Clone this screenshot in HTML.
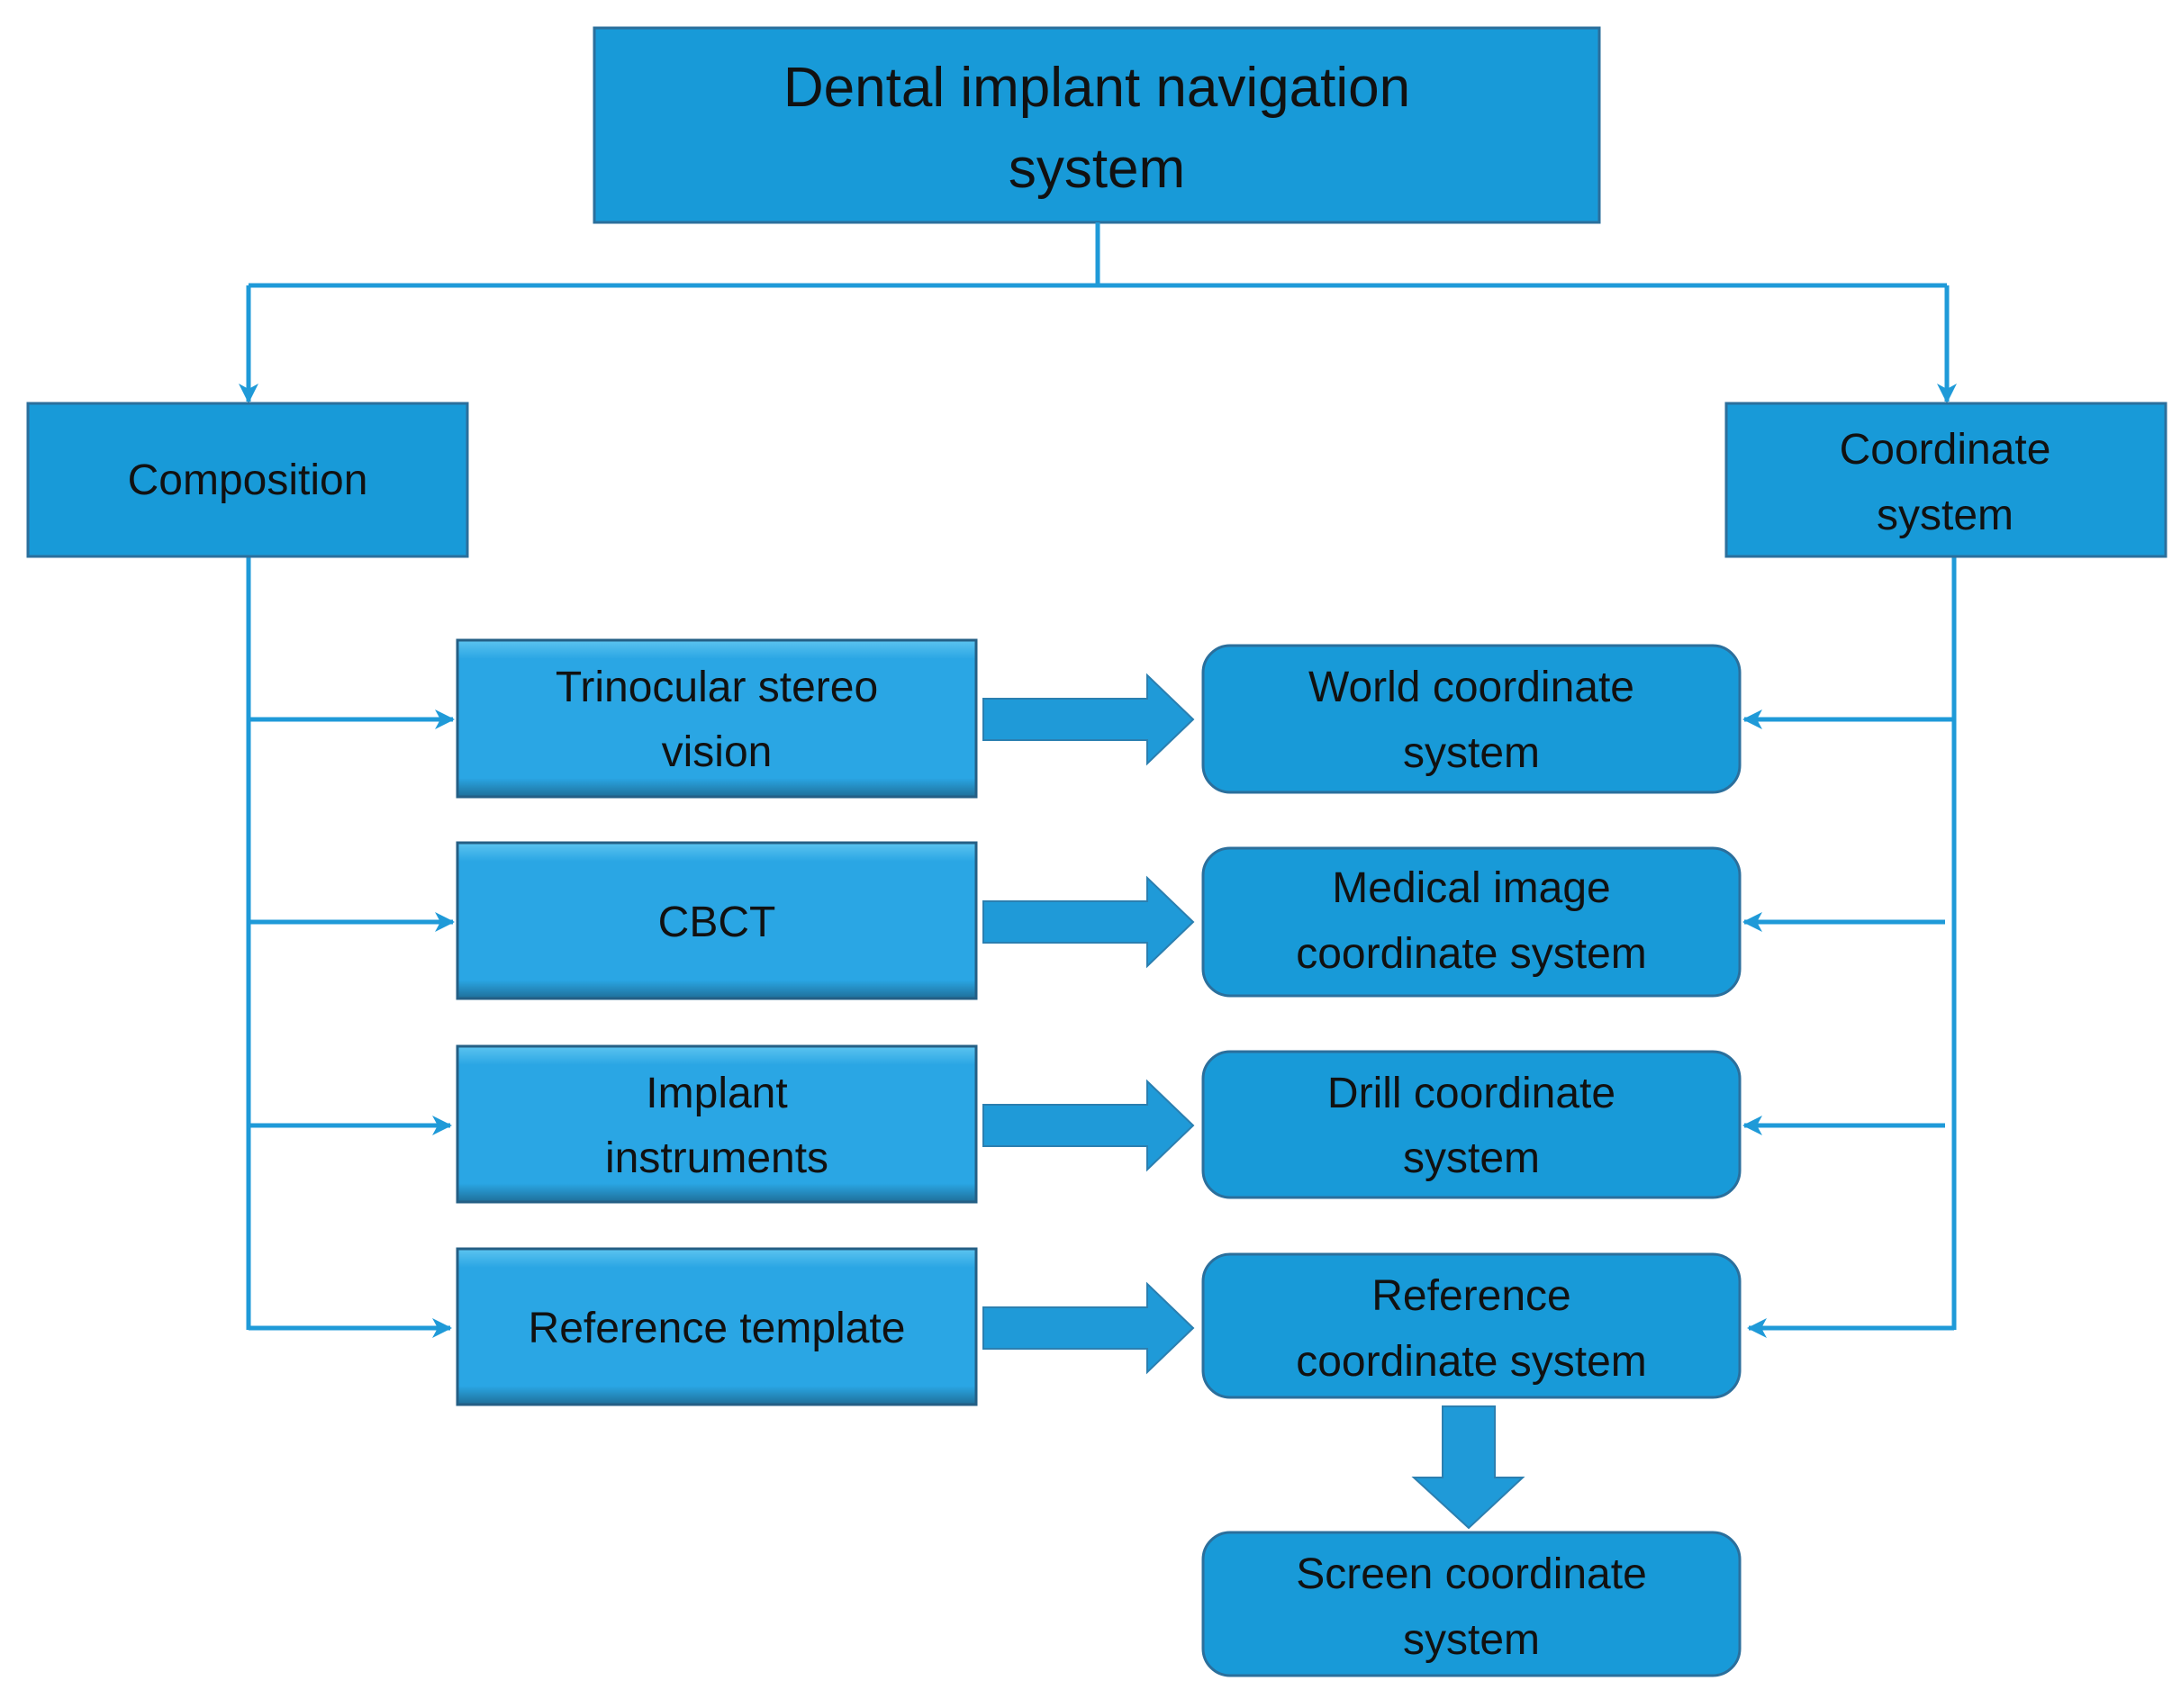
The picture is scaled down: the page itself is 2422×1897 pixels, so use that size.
<!DOCTYPE html>
<html><head><meta charset="utf-8"><style>
html,body{margin:0;padding:0;background:#fff;}
svg{display:block;}
text{font-family:"Liberation Sans",sans-serif;fill:#111;text-anchor:middle;}
</style></head><body>
<svg width="2422" height="1897" viewBox="0 0 2422 1897" xmlns="http://www.w3.org/2000/svg">
<defs>
<linearGradient id="bev" x1="0" y1="0" x2="0" y2="1">
<stop offset="0" stop-color="#5cc4f0"/><stop offset="0.12" stop-color="#2aa6e4"/><stop offset="0.88" stop-color="#2aa6e4"/><stop offset="1" stop-color="#1f6f99"/>
</linearGradient>
<marker id="ah" markerWidth="10" markerHeight="10" refX="8" refY="5" orient="auto" markerUnits="userSpaceOnUse" viewBox="0 0 10 10">
<path d="M0,0 L10,5 L0,10 L3,5 Z" fill="#1f9ad8"/>
</marker>
<marker id="ah2" markerWidth="22" markerHeight="22" refX="20" refY="11" orient="auto" markerUnits="userSpaceOnUse" viewBox="0 0 22 22">
<path d="M0,0 L22,11 L0,22 L6,11 Z" fill="#1f9ad8"/>
</marker>
</defs>
<!-- title -->
<rect x="660" y="31" width="1116" height="216" fill="#189ad8" stroke="#2b6f9c" stroke-width="3"/>
<text x="1218" y="118" font-size="62">Dental implant navigation</text>
<text x="1218" y="208" font-size="62">system</text>
<!-- top connectors -->
<g stroke="#1f9ad8" stroke-width="5" fill="none">
<line x1="1219" y1="247" x2="1219" y2="317"/>
<line x1="276" y1="317" x2="2162" y2="317"/>
<line x1="276" y1="317" x2="276" y2="446" marker-end="url(#ah2)"/>
<line x1="2162" y1="317" x2="2162" y2="446" marker-end="url(#ah2)"/>
<line x1="276" y1="618" x2="276" y2="1477"/>
<line x1="2170" y1="618" x2="2170" y2="1477"/>
<line x1="276" y1="799" x2="503" y2="799" marker-end="url(#ah2)"/>
<line x1="276" y1="1024" x2="503" y2="1024" marker-end="url(#ah2)"/>
<line x1="276" y1="1250" x2="500" y2="1250" marker-end="url(#ah2)"/>
<line x1="276" y1="1475" x2="500" y2="1475" marker-end="url(#ah2)"/>
<line x1="2170" y1="799" x2="1937" y2="799" marker-end="url(#ah2)"/>
<line x1="2160" y1="1024" x2="1937" y2="1024" marker-end="url(#ah2)"/>
<line x1="2160" y1="1250" x2="1937" y2="1250" marker-end="url(#ah2)"/>
<line x1="2170" y1="1475" x2="1942" y2="1475" marker-end="url(#ah2)"/>
</g>
<!-- composition / coordinate -->
<rect x="31" y="448" width="488" height="170" fill="#189ad8" stroke="#2b6f9c" stroke-width="3"/>
<text x="275" y="549" font-size="48">Composition</text>
<rect x="1917" y="448" width="488" height="170" fill="#189ad8" stroke="#2b6f9c" stroke-width="3"/>
<text x="2160" y="515" font-size="48">Coordinate</text>
<text x="2160" y="588" font-size="48">system</text>
<!-- left bevel boxes -->
<g stroke="#245f85" stroke-width="3" fill="url(#bev)">
<rect x="508" y="711" width="576" height="174"/>
<rect x="508" y="936" width="576" height="173"/>
<rect x="508" y="1162" width="576" height="173"/>
<rect x="508" y="1387" width="576" height="173"/>
</g>
<g font-size="48">
<text x="796" y="779">Trinocular stereo</text>
<text x="796" y="851">vision</text>
<text x="796" y="1040">CBCT</text>
<text x="796" y="1230">Implant</text>
<text x="796" y="1302">instruments</text>
<text x="796" y="1491">Reference template</text>
</g>
<!-- block arrows -->
<g fill="#1f9ad8" stroke="#2b7fb0" stroke-width="2">
<path d="M1092,776 L1274,776 L1274,750 L1325,799 L1274,848 L1274,822 L1092,822 Z"/>
<path d="M1092,1001 L1274,1001 L1274,975 L1325,1024 L1274,1073 L1274,1047 L1092,1047 Z"/>
<path d="M1092,1227 L1274,1227 L1274,1201 L1325,1250 L1274,1299 L1274,1273 L1092,1273 Z"/>
<path d="M1092,1452 L1274,1452 L1274,1426 L1325,1475 L1274,1524 L1274,1498 L1092,1498 Z"/>
<path d="M1602,1562 L1660,1562 L1660,1641 L1691,1641 L1631,1697 L1570,1641 L1602,1641 Z"/>
</g>
<!-- right rounded boxes -->
<g fill="#189ad8" stroke="#2b6f9c" stroke-width="3">
<rect x="1336" y="717" width="596" height="163" rx="30"/>
<rect x="1336" y="942" width="596" height="164" rx="30"/>
<rect x="1336" y="1168" width="596" height="162" rx="30"/>
<rect x="1336" y="1393" width="596" height="159" rx="30"/>
<rect x="1336" y="1702" width="596" height="159" rx="30"/>
</g>
<g font-size="48">
<text x="1634" y="779">World coordinate</text>
<text x="1634" y="852">system</text>
<text x="1634" y="1002">Medical image</text>
<text x="1634" y="1075">coordinate system</text>
<text x="1634" y="1230">Drill coordinate</text>
<text x="1634" y="1302">system</text>
<text x="1634" y="1455">Reference</text>
<text x="1634" y="1528">coordinate system</text>
<text x="1634" y="1764">Screen coordinate</text>
<text x="1634" y="1837">system</text>
</g>
</svg>
</body></html>
